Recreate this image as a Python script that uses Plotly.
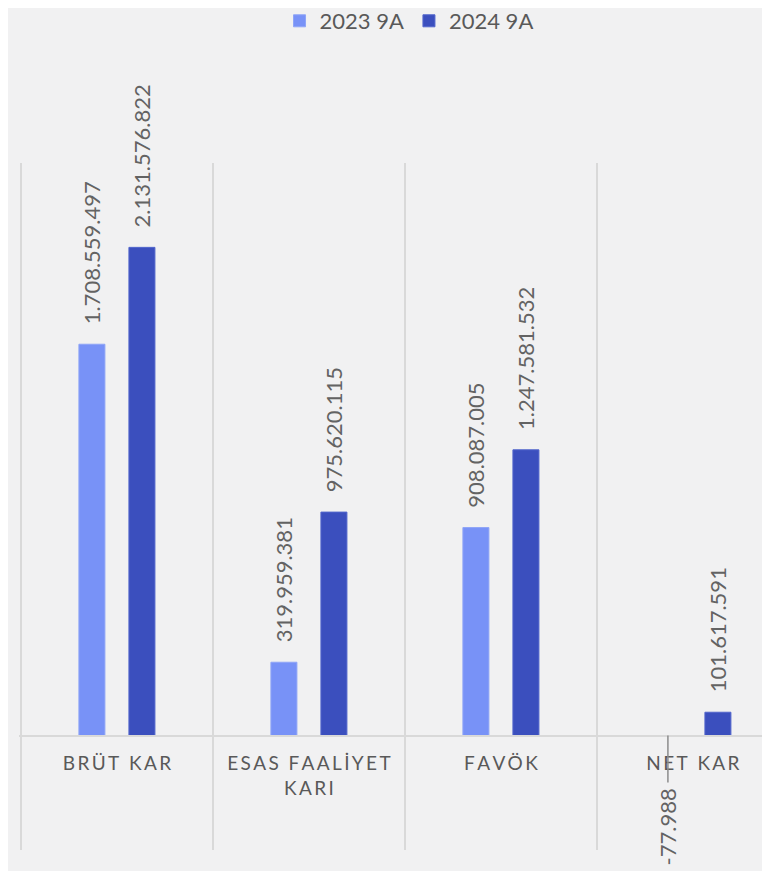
import plotly.graph_objects as go

categories = ["BRÜT KAR", "ESAS FAALİYET KARI", "FAVÖK", "NET KAR"]
tick_labels = ["BRÜT KAR", "ESAS FAALİYET<br>KARI", "FAVÖK", "NET KAR"]
series_names = ["2023 9A", "2024 9A"]
values_2023 = [1708559497, 319959381, 908087005, -77988]
values_2024 = [2131576822, 975620115, 1247581532, 101617591]

C_LIGHT = "#7892f7"
C_DARK = "#3b4fbe"
TXT = "#595959"
LBL = "#636363"
GRID = "#d9d9d9"
FONT = "Lato, 'Open Sans', sans-serif"

THIN = "\u2009"
PAD = "\u00a0\u00a0\u00a0"


def spaced(s):
    parts = s.split("<br>")
    return "<br>".join(THIN.join(list(p)) for p in parts)


def tr_num(v):
    s = f"{abs(v):,}".replace(",", ".")
    return ("-" if v < 0 else "") + s


# labels drawn on bars; the tiny negative value is labelled with a leader line
tt_2023 = [PAD + "%{y:,}" if v >= 0 else "" for v in values_2023]
tt_2024 = [PAD + "%{y:,}" if v >= 0 else "" for v in values_2024]

fig = go.Figure()
fig.add_trace(go.Bar(
    name=series_names[0], x=categories, y=values_2023,
    marker=dict(color=C_LIGHT, line=dict(color="#8fa5f7", width=1)),
    texttemplate=tt_2023, textposition="outside", textangle=-90,
    textfont=dict(family=FONT, size=22, color=LBL),
    constraintext="none", cliponaxis=False,
))
fig.add_trace(go.Bar(
    name=series_names[1], x=categories, y=values_2024,
    marker=dict(color=C_DARK, line=dict(color="#5266cc", width=1)),
    texttemplate=tt_2024, textposition="outside", textangle=-90,
    textfont=dict(family=FONT, size=22, color=LBL),
    constraintext="none", cliponaxis=False,
))

for i, v in enumerate(values_2023):
    if v < 0:
        fig.add_shape(
            type="line", xref="x", yref="y",
            xsizemode="pixel", xanchor=categories[i], x0=-25, x1=-25,
            ysizemode="pixel", yanchor=v, y0=0, y1=-47,
            line=dict(color="#8c8c8c", width=1.5),
        )
        fig.add_annotation(
            x=categories[i], y=v, xref="x", yref="y",
            xshift=-25, yshift=-91, yanchor="middle", xanchor="center",
            text=tr_num(v), textangle=-90, showarrow=False,
            font=dict(family=FONT, size=22, color=LBL),
        )

y_min, y_max = -500e6, 2500e6
zero_pos = (0 - y_min) / (y_max - y_min)

fig.update_layout(
    width=770, height=871,
    margin=dict(l=11, r=8, t=155, b=29, autoexpand=False),
    paper_bgcolor="#f1f1f2",
    plot_bgcolor="rgba(0,0,0,0)",
    separators=",.",
    barmode="group",
    bargap=0.479,
    bargroupgap=0.48,
    font=dict(family=FONT, color=TXT),
    legend=dict(
        orientation="h", xref="container", yref="container",
        x=0.5208, xanchor="center", y=1 - 13 / 871, yanchor="middle",
        font=dict(family=FONT, size=22, color=TXT),
        bgcolor="rgba(0,0,0,0)", traceorder="normal",
    ),
    showlegend=True,
    xaxis=dict(
        type="category",
        range=[-0.51, 3.4015],
        tickson="boundaries",
        showgrid=True, gridcolor=GRID, gridwidth=1.5,
        anchor="free", position=zero_pos,
        showline=True, linecolor=GRID, linewidth=2,
        ticks="", tickvals=categories,
        ticktext=[spaced(t) for t in tick_labels],
        tickfont=dict(family=FONT, size=19, color=TXT),
        ticklabelstandoff=11,
        zeroline=False, automargin=False,
    ),
    yaxis=dict(
        range=[y_min, y_max],
        visible=False, showgrid=False, zeroline=False, automargin=False,
    ),
)

fig.write_html("out.html")
